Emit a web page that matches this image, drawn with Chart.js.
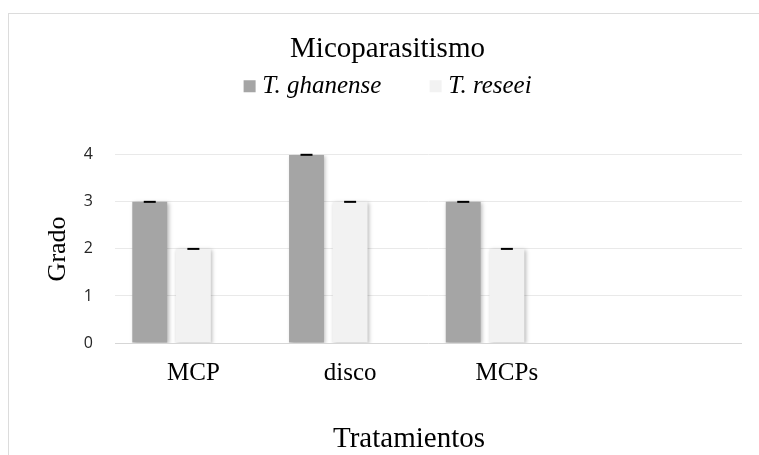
<!DOCTYPE html>
<html>
<head>
<meta charset="utf-8">
<script src="https://cdn.jsdelivr.net/npm/chart.js@4"></script>
<style>
  html, body { margin: 0; padding: 0; background: #fff; overflow: hidden; }
  #frame { position: absolute; left: 8px; top: 13px; width: 800px; height: 500px;
           border-left: 1px solid #dcdcdc; border-top: 1px solid #dcdcdc; }
  #wrap { position: absolute; left: 0; top: 0; width: 759px; height: 455px; }
</style>
</head>
<body>
<div id="frame"></div>
<div id="wrap"><canvas id="chart"></canvas></div>
<script>
// Treatments on the x axis (the fourth slot is left empty)
const categories = ['MCP', 'disco', 'MCPs', ''];

// Mycoparasitism grade per treatment
const ghanense = [3, 4, 3, null];
const reseei   = [2, 3, 2, null];

// Error bar half-widths
const ghanenseErr = [0, 0, 0, null];
const reseeiErr   = [0, 0, 0, null];

// Unused third series slot: keeps each pair of bars on the left of its group
const emptySeries = [null, null, null, null];

// Y axis range
const yMin = 0, yMax = 4, yStep = 1;

const SERIF = 'Liberation Serif';

// Soft shadow behind the bars, then black error caps on top
const barDecor = {
  id: 'barDecor',
  beforeDatasetsDraw(chart) {
    const ctx = chart.ctx;
    ctx.save();
    ctx.shadowColor = 'rgba(0,0,0,0.28)';
    ctx.shadowBlur = 4;
    ctx.shadowOffsetX = 1.5;
    ctx.shadowOffsetY = 1;
  },
  afterDatasetsDraw(chart) {
    const ctx = chart.ctx;
    ctx.restore();
    const yScale = chart.scales.y;
    chart.data.datasets.forEach((ds, i) => {
      if (!ds.errors) return;
      const meta = chart.getDatasetMeta(i);
      meta.data.forEach((bar, j) => {
        const v = ds.data[j], e = ds.errors[j];
        if (v == null || e == null) return;
        const yHi = yScale.getPixelForValue(v + e);
        const yLo = yScale.getPixelForValue(v - e);
        ctx.save();
        ctx.strokeStyle = '#000';
        ctx.lineWidth = 2;
        ctx.beginPath();
        ctx.moveTo(bar.x - 6, yHi); ctx.lineTo(bar.x + 6, yHi);
        if (e > 0) {
          ctx.moveTo(bar.x - 6, yLo); ctx.lineTo(bar.x + 6, yLo);
          ctx.moveTo(bar.x, yHi); ctx.lineTo(bar.x, yLo);
        }
        ctx.stroke();
        ctx.restore();
      });
    });
  }
};

// Fine placement of the title and legend boxes after layout
const boxNudge = {
  id: 'boxNudge',
  afterLayout(chart, args, opts) {
    const shift = (box, d) => {
      if (!box || !d) return;
      box.top += d.dy; box.bottom += d.dy;
      box.left += d.dx; box.right += d.dx;
    };
    shift(chart.titleBlock, opts.title);
    shift(chart.legend, opts.legend);
  }
};

// X axis caption
const axisCaption = {
  id: 'axisCaption',
  afterDraw(chart, args, opts) {
    const ctx = chart.ctx;
    ctx.save();
    ctx.font = opts.font;
    ctx.fillStyle = opts.color;
    ctx.textAlign = 'center';
    ctx.textBaseline = 'alphabetic';
    ctx.fillText(opts.text, opts.x, opts.y);
    ctx.restore();
  }
};

new Chart(document.getElementById('chart'), {
  type: 'bar',
  data: {
    labels: categories,
    datasets: [
      { label: 'T. ghanense', data: ghanense, errors: ghanenseErr, backgroundColor: '#a5a5a5', borderWidth: 0 },
      { label: 'T. reseei', data: reseei, errors: reseeiErr, backgroundColor: '#f2f2f2', borderWidth: 0 },
      { label: '', data: emptySeries, backgroundColor: 'rgba(0,0,0,0)', borderWidth: 0 }
    ]
  },
  options: {
    responsive: true,
    maintainAspectRatio: false,
    animation: false,
    layout: { padding: { left: 17, right: 17, top: 0, bottom: 0 } },
    datasets: { bar: { categoryPercentage: 0.835, barPercentage: 0.8 } },
    scales: {
      x: {
        grid: { display: false, drawTicks: false },
        border: { display: false },
        ticks: { padding: 15, color: '#000', font: { family: SERIF, size: 25 }, autoSkip: false, maxRotation: 0 },
        afterFit(s) { s.height = 112; }
      },
      y: {
        min: yMin, max: yMax,
        ticks: { stepSize: yStep, padding: 22, color: '#262626', font: { family: 'Open Sans', size: 16 } },
        grid: {
          drawTicks: false,
          lineWidth: 1,
          color: c => (c.tick && c.tick.value === 0) ? '#d6d6d6' : '#e9e9e9'
        },
        border: { display: false },
        title: { display: true, text: 'Grado', color: '#000', font: { family: SERIF, size: 26 }, padding: { top: 26, bottom: 0 } },
        afterFit(s) { s.width = 98; }
      }
    },
    plugins: {
      title: {
        display: true, text: 'Micoparasitismo', color: '#000',
        font: { family: SERIF, size: 29, weight: 'normal' },
        padding: { top: 32, bottom: -1 }
      },
      legend: {
        position: 'top',
        labels: {
          usePointStyle: true, pointStyle: 'rect',
          boxWidth: 0.5, boxHeight: 12, padding: 54,
          color: '#000',
          font: { family: SERIF, size: 25, style: 'italic' },
          filter: item => item.datasetIndex < 2
        }
      },
      boxNudge: { title: { dx: 8, dy: 0 }, legend: { dx: 11, dy: -46 } },
      axisCaption: { text: 'Tratamientos', x: 409, y: 447, font: '29px "Liberation Serif"', color: '#000' },
      tooltip: { enabled: false }
    }
  },
  plugins: [barDecor, boxNudge, axisCaption]
});
</script>
</body>
</html>
